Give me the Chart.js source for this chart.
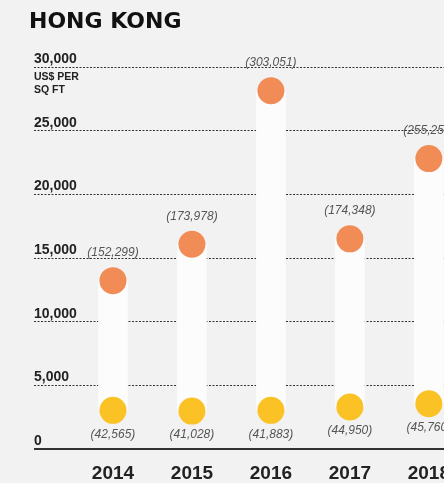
<!DOCTYPE html>
<html>
<head>
<meta charset="utf-8">
<title>Hong Kong</title>
<script src="https://cdn.jsdelivr.net/npm/chart.js@4.4.0/dist/chart.umd.min.js"></script>
<style>
    html, body { margin: 0; padding: 0; background: #f2f2f2; overflow: hidden; }
    #myChart { display: block; }
</style>
</head>
<body>
<canvas id="myChart" width="470" height="498"></canvas>
<script>
const years = ['2014', '2015', '2016', '2017', '2018'];
const priceHigh = [13230, 16090, 28130, 16510, 22810];   // orange dots, US$ per sq ft
const priceLow = [3050, 2990, 3050, 3310, 3570];          // yellow dots
const labelHigh = [152299, 173978, 303051, 174348, 255256];
const labelLow = [42565, 41028, 41883, 44950, 45760];
const yTicks = [0, 5000, 10000, 15000, 20000, 25000, 30000];

const ORANGE = '#f18c56';
const YELLOW = '#fbc225';
const FONT = '"Liberation Sans", Arial, sans-serif';


function fmt(n) {
    return n.toLocaleString('en-US');
}


const extraText = {  // value labels, title and unit
    id: 'extraText',
    afterDatasetsDraw(chart) {
        const ctx = chart.ctx;
        const x = chart.scales.x;
        const y = chart.scales.y;
        ctx.save();
        ctx.textAlign = 'center';
        ctx.textBaseline = 'middle';
        ctx.font = 'italic 12px ' + FONT;
        ctx.fillStyle = '#555';
        for (let i = 0; i < years.length; i++) {
            let px = x.getPixelForValue(i);
            ctx.fillText('(' + fmt(labelHigh[i]) + ')', px, y.getPixelForValue(priceHigh[i]) - 28);
            ctx.fillText('(' + fmt(labelLow[i]) + ')', px, y.getPixelForValue(priceLow[i]) + 24);
        }

        ctx.textAlign = 'left';
        ctx.textBaseline = 'alphabetic';
        ctx.fillStyle = '#111';
        ctx.font = 'bold 22px "DejaVu Sans", ' + FONT;
        ctx.fillText('HONG KONG', 29, 28);

        ctx.fillStyle = '#222';
        ctx.font = 'bold 10.5px ' + FONT;
        ctx.fillText('US$ PER', 34, 80);
        ctx.fillText('SQ FT', 34, 93);
        ctx.restore();
    }
};


function drawChart() {
    const ctx = document.getElementById('myChart').getContext('2d');
    new Chart(ctx, {
        type: 'bar',
        data: {
            datasets: [{
                type: 'line',
                data: years.map((yr, i) => ({ x: i, y: priceHigh[i] })),
                showLine: false,
                pointRadius: 13.5,
                pointBorderWidth: 0,
                pointBackgroundColor: ORANGE,
                order: 1
            }, {
                type: 'line',
                data: years.map((yr, i) => ({ x: i, y: priceLow[i] })),
                showLine: false,
                pointRadius: 13.5,
                pointBorderWidth: 0,
                pointBackgroundColor: YELLOW,
                order: 1
            }, {
                data: years.map((yr, i) => ({ x: i, y: [priceLow[i], priceHigh[i]] })),
                backgroundColor: '#fcfcfc',
                borderWidth: 0,
                barThickness: 29,
                order: 2
            }]
        },
        options: {
            responsive: false,
            animation: false,
            layout: { padding: { left: 34, top: 67, right: 0, bottom: 0 } },
            plugins: {
                legend: { display: false },
                tooltip: { enabled: false }
            },
            scales: {
                x: {
                    type: 'linear',
                    offset: false,
                    min: -1,
                    max: 4.35,
                    afterBuildTicks: (scale) => { scale.ticks = years.map((yr, i) => ({ value: i })); },
                    grid: { display: false, drawTicks: false },
                    border: { display: false },
                    ticks: {
                        padding: 13,
                        maxRotation: 0,
                        autoSkip: false,
                        color: '#222',
                        font: { family: FONT, size: 19, weight: 'bold' },
                        callback: (v, i) => years[i]
                    }
                },
                y: {
                    min: 0,
                    max: 30000,
                    afterBuildTicks: (scale) => { scale.ticks = yTicks.map(v => ({ value: v })); },
                    grid: {
                        drawTicks: false,
                        color: '#333',
                        lineWidth: (c) => (c.tick && c.tick.value === 0 ? 2 : 1)
                    },
                    border: {
                        display: false,
                        dash: (c) => (c.tick && c.tick.value === 0 ? [] : [2, 1.5])
                    },
                    ticks: {
                        mirror: true,
                        padding: 0,
                        labelOffset: -8,
                        color: '#222',
                        font: { family: FONT, size: 14, weight: 'bold' },
                        callback: (v) => fmt(v)
                    }
                }
            }
        },
        plugins: [extraText]
    });
}

drawChart();
</script>
</body>
</html>
